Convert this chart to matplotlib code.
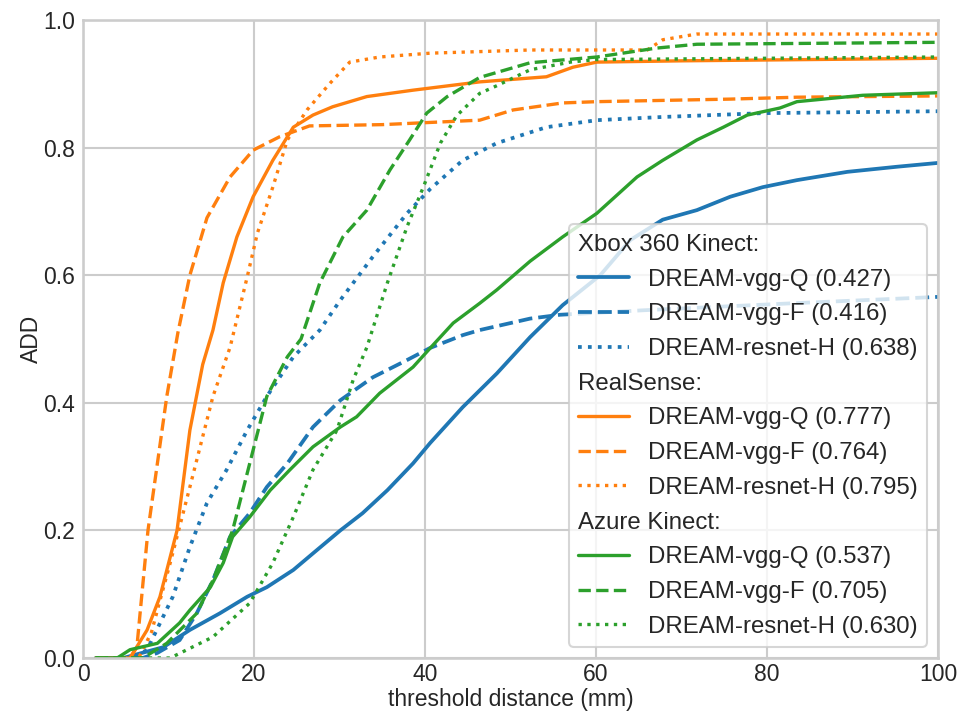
import matplotlib
matplotlib.use("Agg")
import matplotlib.pyplot as plt
import seaborn as sns
from matplotlib.lines import Line2D

# ADD curves (threshold in mm, fraction)
xbox_q_x = [1.5, 4.7, 9.4, 12.5, 16, 19.2, 21.5, 24.6, 26.9, 30.1, 32.7, 35.6, 38.6, 40.6,
            44.4, 48.4, 52.3, 56.1, 60.5, 64, 67.8, 71.8, 75.7, 79.5, 83.5, 89.4, 95.2, 100]
xbox_q_y = [0, 0, 0.017, 0.044, 0.07, 0.096, 0.111, 0.138, 0.164, 0.2, 0.227, 0.263, 0.305, 0.337,
            0.393, 0.446, 0.503, 0.553, 0.6, 0.655, 0.687, 0.702, 0.723, 0.738, 0.749, 0.762, 0.77, 0.776]

xbox_f_x = [1.5, 7, 8.7, 11.3, 13.3, 15.2, 17.2, 19.5, 21.5, 23.9, 26.9, 30.1, 33.9, 37.9,
            40.6, 44.4, 46.4, 52.3, 55.8, 65.5, 83, 100]
xbox_f_y = [0, 0, 0.008, 0.028, 0.07, 0.122, 0.19, 0.227, 0.268, 0.305, 0.362, 0.404, 0.44, 0.467,
            0.486, 0.506, 0.514, 0.532, 0.538, 0.545, 0.556, 0.566]

xbox_h_x = [1.5, 6, 7.5, 10.5, 12.5, 14.5, 16.8, 19.2, 21.5, 24.6, 27.7, 30.1, 33.9, 37.9,
            40.6, 44.4, 48.4, 54.2, 60.1, 67.8, 79.5, 100]
xbox_h_y = [0, 0, 0.013, 0.096, 0.174, 0.243, 0.295, 0.357, 0.41, 0.472, 0.514, 0.561, 0.629, 0.697,
            0.735, 0.78, 0.807, 0.832, 0.843, 0.848, 0.854, 0.857]

rs_q_x = [1.5, 5.5, 7.5, 9, 11, 12.5, 14, 15.2, 16.4, 18, 19.9, 22.2, 24.6, 26.9, 29.2,
          33.2, 38.6, 46.4, 54.2, 57.3, 60.1, 70, 100]
rs_q_y = [0, 0, 0.044, 0.096, 0.2, 0.357, 0.46, 0.514, 0.588, 0.66, 0.723, 0.78, 0.832, 0.851, 0.864,
          0.88, 0.89, 0.903, 0.911, 0.926, 0.934, 0.936, 0.94]

rs_f_x = [1.5, 5.5, 6.3, 7.6, 9.8, 11.1, 12.5, 14.5, 17.2, 19.9, 23, 26.5, 35, 46.4,
          50.3, 56.1, 60.1, 75.7, 83.5, 100]
rs_f_y = [0, 0, 0.017, 0.2, 0.41, 0.51, 0.6, 0.69, 0.754, 0.796, 0.817, 0.834, 0.836, 0.843,
          0.859, 0.87, 0.872, 0.876, 0.879, 0.881]

rs_h_x = [1.5, 6.5, 8, 9, 10.2, 12.5, 15.2, 17.2, 19.2, 20.4, 22.2, 23.9, 26.2, 28.9, 31.2,
          34.7, 40.6, 52.3, 66, 67.8, 71.8, 100]
rs_h_y = [0, 0, 0.04, 0.09, 0.149, 0.268, 0.41, 0.487, 0.597, 0.666, 0.738, 0.812, 0.859, 0.901, 0.934,
          0.942, 0.948, 0.953, 0.953, 0.969, 0.978, 0.978]

az_q_x = [1.5, 4, 5.5, 8.7, 11.3, 12.5, 14.9, 16.4, 17.5, 19.5, 21.9, 24.2, 26.9, 30.1, 32,
          34.7, 38.6, 40.9, 43.3, 46.4, 48.4, 52.3, 56.1, 60.1, 64.8, 67.8, 71.8, 74.9, 77.7,
          81.5, 83.5, 91.2, 100]
az_q_y = [0, 0, 0.013, 0.023, 0.055, 0.075, 0.111, 0.149, 0.19, 0.221, 0.263, 0.295, 0.331, 0.362, 0.378,
          0.415, 0.456, 0.49, 0.525, 0.556, 0.577, 0.622, 0.66, 0.697, 0.754, 0.78, 0.812, 0.832, 0.851,
          0.862, 0.872, 0.882, 0.886]

az_f_x = [1.5, 7, 9.8, 13.3, 15.2, 17.5, 19.5, 21.5, 23.9, 25.5, 27.7, 30.4, 33.2, 35.9, 38.2,
          40.2, 42.6, 46.4, 52.3, 60.1, 67.1, 71.8, 100]
az_f_y = [0, 0, 0.023, 0.07, 0.122, 0.2, 0.305, 0.41, 0.472, 0.5, 0.588, 0.66, 0.702, 0.765, 0.812,
          0.854, 0.88, 0.91, 0.933, 0.942, 0.956, 0.962, 0.965]

az_h_x = [1.5, 10.2, 15.2, 19.5, 22.2, 24.6, 26.9, 29.7, 31.6, 33.2, 35.6, 37.9, 39.8, 41.8,
          43.7, 46.4, 48.4, 52.3, 57, 60, 100]
az_h_y = [0, 0, 0.033, 0.086, 0.149, 0.221, 0.295, 0.357, 0.436, 0.487, 0.588, 0.676, 0.738, 0.807,
          0.85, 0.885, 0.897, 0.922, 0.934, 0.938, 0.942]

groups = ["Xbox 360 Kinect:", "RealSense:", "Azure Kinect:"]
model_names = ["DREAM-vgg-Q", "DREAM-vgg-F", "DREAM-resnet-H"]
scores = [[0.427, 0.416, 0.638], [0.777, 0.764, 0.795], [0.537, 0.705, 0.630]]
curves = [[(xbox_q_x, xbox_q_y), (xbox_f_x, xbox_f_y), (xbox_h_x, xbox_h_y)],
          [(rs_q_x, rs_q_y), (rs_f_x, rs_f_y), (rs_h_x, rs_h_y)],
          [(az_q_x, az_q_y), (az_f_x, az_f_y), (az_h_x, az_h_y)]]
colors = ["#1f77b4", "#ff7f0e", "#2ca02c"]
styles = ["-", "--", ":"]
widths = [1.8, 1.6, 1.6]

sns.set_theme(style="whitegrid")
plt.rcParams["font.family"] = ["Liberation Sans", "DejaVu Sans"]

fig, ax = plt.subplots(figsize=(9.59 / 1.5, 7.19 / 1.5), dpi=150)
fig.subplots_adjust(left=83 / 959, right=938 / 959, top=1 - 20 / 719, bottom=1 - 658 / 719)

handles = []
for g, group in enumerate(groups):
    handles.append(Line2D([], [], color="none", label=group))
    for m, name in enumerate(model_names):
        xs, ys = curves[g][m]
        line, = ax.plot(xs, ys, color=colors[g], ls=styles[m], lw=widths[g],
                        label=f"{name} ({scores[g][m]:.3f})")
        handles.append(line)

ax.set_xlim(0, 100)
ax.set_ylim(0, 1)
ax.set_xlabel("threshold distance (mm)", fontsize=11, labelpad=1)
ax.set_ylabel("ADD", fontsize=11, labelpad=0)
ax.tick_params(axis="x", labelsize=11, length=0, pad=2.5)
ax.tick_params(axis="y", labelsize=11, length=0, pad=4)

leg = ax.legend(handles=handles, loc="lower right", fontsize=11.5, handlelength=2.1,
                labelspacing=0.53, borderaxespad=0.45)
# pull the group headers left so they start where the handles do
for col in leg._legend_handle_box.get_children():
    for row in col.get_children():
        da, ta = row.get_children()
        if ta._text.get_text() in groups:
            da.set_width(0)
            row.sep = 0

fig.savefig("out.png", dpi=150)
